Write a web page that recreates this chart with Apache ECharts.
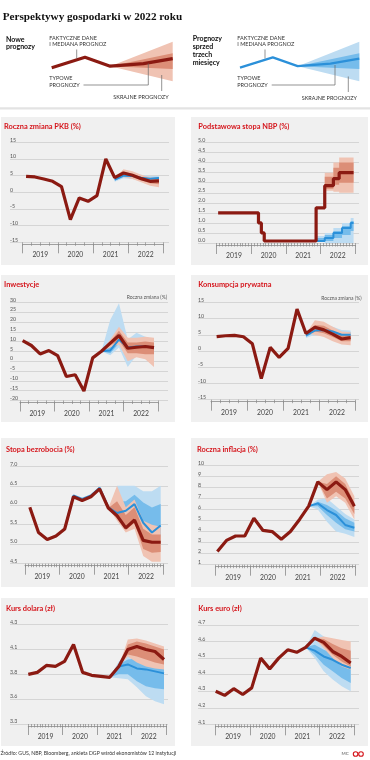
<!DOCTYPE html>
<html><head><meta charset="utf-8">
<script src="https://cdn.jsdelivr.net/npm/echarts/dist/echarts.min.js"></script>
<style>html,body{margin:0;padding:0;background:#fff}#c{width:370px;height:760px}</style>
</head><body><div id="c"></div>
<script>
const N = null;
// ---------- categories ----------
const years = ['2019', '2020', '2021', '2022'];
const quarterNames = ['I', 'II', 'III', 'IV'];
const monthNames = ['sty', 'lut', 'mar', 'kwi', 'maj', 'cze', 'lip', 'sie', 'wrz', 'paź', 'lis', 'gru'];
const quarterCats = years.flatMap(y => quarterNames.map(q => q + ' kw. ' + y));
const monthCats = years.flatMap(y => monthNames.map(m => m + ' ' + y));

// ---------- tick labels (bottom -> top) ----------
const pkbTicks = ['-15', '-10', '-5', '0', '5', '10', '15'];
const nbpTicks = ['0.0', '0.5', '1.0', '1.5', '2.0', '2.5', '3.0', '3.5', '4.0', '4.5', '5.0'];
const inwTicks = ['-20', '-15', '-10', '-5', '0', '5', '10', '15', '20', '25', '30'];
const konsTicks = ['-15', '-10', '-5', '0', '5', '10', '15'];
const bezrTicks = ['4.5', '5.0', '5.5', '6.0', '6.5', '7.0'];
const inflTicks = ['1', '2', '3', '4', '5', '6', '7', '8', '9', '10'];
const usdTicks = ['3.3', '3.6', '3.8', '4.1', '4.3'];
const eurTicks = ['4.1', '4.2', '4.3', '4.4', '4.5', '4.6', '4.7'];

// ---------- PKB (quarterly) ----------
const pkbActual = [4.8, 4.6, 4.0, 3.3, 1.7, -8.2, -1.7, -2.7, -1.0, 10.0, 4.4, 5.8, 5.1, 4.1, 3.3, 3.4];
const pkbOld = [N, N, N, N, N, N, N, N, N, N, 3.8, 5.0, 4.9, 4.4, 4.1, 4.3];
const pkbNewExtLo = [N, N, N, N, N, N, N, N, N, N, 4.4, 4.6, 4.0, 3.0, 2.0, 1.5];
const pkbNewTypLo = [N, N, N, N, N, N, N, N, N, N, 4.4, 5.3, 4.6, 3.6, 2.7, 2.4];
const pkbNewTypHi = [N, N, N, N, N, N, N, N, N, N, 4.4, 6.2, 5.6, 4.6, 3.8, 3.9];
const pkbNewExtHi = [N, N, N, N, N, N, N, N, N, N, 4.4, 6.9, 6.3, 5.3, 4.5, 4.4];
const pkbOldExtLo = [N, N, N, N, N, N, N, N, N, N, 3.2, 4.2, 4.0, 3.6, 3.4, 3.4];
const pkbOldTypLo = [N, N, N, N, N, N, N, N, N, N, 3.5, 4.6, 4.5, 4.0, 3.7, 3.8];
const pkbOldTypHi = [N, N, N, N, N, N, N, N, N, N, 4.3, 5.5, 5.3, 4.8, 4.4, 4.6];
const pkbOldExtHi = [N, N, N, N, N, N, N, N, N, N, 4.7, 6.0, 5.8, 5.3, 4.9, 4.9];

// ---------- Stopa NBP (monthly) ----------
const nbpActual = [
  1.5, 1.5, 1.5, 1.5, 1.5, 1.5, 1.5, 1.5, 1.5, 1.5, 1.5, 1.5,
  1.5, 1.5, 1.0, 0.5, 0.1, 0.1, 0.1, 0.1, 0.1, 0.1, 0.1, 0.1,
  0.1, 0.1, 0.1, 0.1, 0.1, 0.1, 0.1, 0.1, 0.1, 0.1, 1.75, 1.75,
  1.75, 2.85, 2.85, 2.85, 3.2, 3.2, 3.5, 3.5, 3.5, 3.5, 3.5, 3.5];
const nbpOld = [
  N, N, N, N, N, N, N, N, N, N, N, N,
  N, N, N, N, N, N, N, N, N, N, N, N,
  N, N, N, N, N, N, N, N, N, 0.1, 0.1, 0.1,
  0.1, 0.25, 0.25, 0.25, 0.5, 0.5, 0.5, 0.75, 0.75, 0.75, 1.0, 1.0];
const nbpNewExtLo = [
  N, N, N, N, N, N, N, N, N, N, N, N,
  N, N, N, N, N, N, N, N, N, N, N, N,
  N, N, N, N, N, N, N, N, N, N, N, N,
  N, 2.6, 2.6, 2.6, 2.55, 2.55, 2.5, 2.5, 2.5, 2.5, 2.5, 2.5];
const nbpNewTypLo = [
  N, N, N, N, N, N, N, N, N, N, N, N,
  N, N, N, N, N, N, N, N, N, N, N, N,
  N, N, N, N, N, N, N, N, N, N, N, N,
  N, 2.7, 2.7, 2.7, 2.9, 2.9, 3.0, 3.0, 3.0, 3.0, 3.0, 3.0];
const nbpNewTypHi = [
  N, N, N, N, N, N, N, N, N, N, N, N,
  N, N, N, N, N, N, N, N, N, N, N, N,
  N, N, N, N, N, N, N, N, N, N, N, N,
  N, 3.3, 3.3, 3.3, 3.75, 3.75, 4.0, 4.0, 4.0, 4.0, 4.0, 4.0];
const nbpNewExtHi = [
  N, N, N, N, N, N, N, N, N, N, N, N,
  N, N, N, N, N, N, N, N, N, N, N, N,
  N, N, N, N, N, N, N, N, N, N, N, N,
  N, 3.5, 3.5, 3.5, 4.0, 4.0, 4.25, 4.25, 4.25, 4.25, 4.25, 4.25];
const nbpOldExtLo = [
  N, N, N, N, N, N, N, N, N, N, N, N,
  N, N, N, N, N, N, N, N, N, N, N, N,
  N, N, N, N, N, N, N, N, N, N, 0.1, 0.1,
  0.1, 0.0, 0.0, 0.0, 0.0, 0.0, 0.0, 0.0, 0.0, 0.0, 0.0, 0.0];
const nbpOldTypLo = [
  N, N, N, N, N, N, N, N, N, N, N, N,
  N, N, N, N, N, N, N, N, N, N, N, N,
  N, N, N, N, N, N, N, N, N, N, 0.1, 0.1,
  0.1, 0.1, 0.1, 0.1, 0.25, 0.25, 0.25, 0.4, 0.4, 0.4, 0.6, 0.6];
const nbpOldTypHi = [
  N, N, N, N, N, N, N, N, N, N, N, N,
  N, N, N, N, N, N, N, N, N, N, N, N,
  N, N, N, N, N, N, N, N, N, N, 0.25, 0.25,
  0.25, 0.4, 0.4, 0.4, 0.6, 0.6, 0.6, 0.85, 0.85, 0.85, 1.1, 1.1];
const nbpOldExtHi = [
  N, N, N, N, N, N, N, N, N, N, N, N,
  N, N, N, N, N, N, N, N, N, N, N, N,
  N, N, N, N, N, N, N, N, N, N, 0.35, 0.35,
  0.35, 0.5, 0.5, 0.5, 0.75, 0.75, 0.75, 1.0, 1.0, 1.0, 1.25, 1.25];

// ---------- Inwestycje (quarterly) ----------
const inwActual = [10.5, 8.0, 3.7, 5.4, 2.9, -7.8, -6.9, -15.2, 1.7, 5.1, 9.2, 13.1, 6.6, 7.1, 7.5, 6.9];
const inwOld = [N, N, N, N, N, N, N, N, N, 5.1, 5.5, 11.0, 7.0, 7.5, 7.5, 7.0];
const inwNewExtLo = [N, N, N, N, N, N, N, N, N, 5.1, 7.0, 8.5, 0.0, 2.0, 1.0, -3.0];
const inwNewTypLo = [N, N, N, N, N, N, N, N, N, 5.1, 8.0, 10.5, 4.0, 4.0, 3.5, 3.5];
const inwNewTypHi = [N, N, N, N, N, N, N, N, N, 5.1, 10.0, 15.5, 9.5, 9.5, 10.0, 9.5];
const inwNewExtHi = [N, N, N, N, N, N, N, N, N, 5.1, 11.0, 17.5, 12.0, 12.0, 12.5, 12.0];
const inwOldExtLo = [N, N, N, N, N, N, N, N, N, 5.1, 3.0, 7.0, -3.0, 3.0, 1.5, 0.0];
const inwOldTypLo = [N, N, N, N, N, N, N, N, N, 5.1, 4.0, 9.0, 3.0, 5.0, 5.0, 4.0];
const inwOldTypHi = [N, N, N, N, N, N, N, N, N, 5.1, 8.0, 14.0, 10.0, 10.5, 10.0, 9.0];
const inwOldExtHi = [N, N, N, N, N, N, N, N, N, 5.1, 21.0, 29.5, 11.0, 14.5, 12.5, 11.0];

// ---------- Konsumpcja prywatna (quarterly) ----------
const konsActual = [4.4, 4.7, 4.8, 4.4, 2.2, -8.5, 1.1, -2.0, 0.8, 12.9, 5.4, 7.3, 6.5, 5.2, 3.7, 4.1];
const konsOld = [N, N, N, N, N, N, N, N, N, N, 4.8, 6.3, 6.5, 6.0, 5.0, 5.0];
const konsNewExtLo = [N, N, N, N, N, N, N, N, N, N, 5.4, 5.0, 4.3, 3.0, 2.0, 1.8];
const konsNewTypLo = [N, N, N, N, N, N, N, N, N, N, 5.4, 6.0, 5.5, 4.3, 3.0, 3.0];
const konsNewTypHi = [N, N, N, N, N, N, N, N, N, N, 5.4, 8.0, 7.8, 6.3, 4.8, 5.0];
const konsNewExtHi = [N, N, N, N, N, N, N, N, N, N, 5.4, 9.5, 9.0, 7.5, 6.0, 5.8];
const konsOldExtLo = [N, N, N, N, N, N, N, N, N, N, 4.0, 5.0, 5.0, 4.3, 3.8, 3.5];
const konsOldTypLo = [N, N, N, N, N, N, N, N, N, N, 4.3, 5.8, 5.8, 5.2, 4.5, 4.3];
const konsOldTypHi = [N, N, N, N, N, N, N, N, N, N, 5.3, 7.0, 7.3, 6.8, 5.8, 5.8];
const konsOldExtHi = [N, N, N, N, N, N, N, N, N, N, 6.0, 8.0, 8.3, 7.5, 6.5, 6.3];

// ---------- Stopa bezrobocia (quarterly points) ----------
const bezrActual = [5.95, 5.30, 5.12, 5.21, 5.39, 6.22, 6.12, 6.22, 6.42, 5.93, 5.73, 5.42, 5.62, 5.1, 5.05, 5.05];
const bezrOld = [N, N, N, N, 5.39, 6.25, 6.16, 6.25, 6.45, 5.95, 5.8, 5.86, 6.03, 5.55, 5.3, 5.48];
const bezrNewExtLo = [N, N, N, N, N, N, N, N, N, 5.93, 5.6, 5.3, 5.4, 4.7, 4.55, 4.55];
const bezrNewTypLo = [N, N, N, N, N, N, N, N, N, 5.93, 5.68, 5.36, 5.55, 4.88, 4.78, 4.8];
const bezrNewTypHi = [N, N, N, N, N, N, N, N, N, 5.93, 6.1, 5.75, 5.95, 5.4, 5.25, 5.25];
const bezrNewExtHi = [N, N, N, N, N, N, N, N, N, 5.93, 6.5, 5.95, 6.15, 5.6, 5.5, 5.45];
const bezrOldExtLo = [N, N, N, N, N, N, N, N, N, N, 5.6, 5.5, 5.6, 5.0, 4.9, 5.0];
const bezrOldTypLo = [N, N, N, N, N, N, N, N, N, N, 5.7, 5.65, 5.75, 5.25, 5.1, 5.2];
const bezrOldTypHi = [N, N, N, N, N, N, N, N, N, N, 6.1, 6.1, 6.27, 6.07, 5.94, 6.03];
const bezrOldExtHi = [N, N, N, N, N, N, N, N, N, N, 6.5, 6.5, 6.5, 6.36, 6.36, 6.5];

// ---------- Roczna inflacja ----------
const inflActual = [2.2, 3.2, 3.6, 3.6, 5.2, 4.1, 4.0, 3.3, 4.0, 5.1, 6.3, 8.5, 7.8, 8.5, 7.8, 6.3];
const inflOld = [N, N, N, N, N, N, N, N, N, N, 6.3, 6.55, 5.95, 5.5, 4.6, 4.35];
const inflNewExtLo = [N, N, N, N, N, N, N, N, N, N, N, 8.5, 6.6, 7.2, 6.6, 5.1];
const inflNewTypLo = [N, N, N, N, N, N, N, N, N, N, N, 8.5, 7.0, 7.6, 7.0, 5.6];
const inflNewTypHi = [N, N, N, N, N, N, N, N, N, N, N, 8.5, 8.3, 9.0, 8.3, 6.6];
const inflNewExtHi = [N, N, N, N, N, N, N, N, N, N, N, 8.5, 9.2, 9.4, 8.8, 7.2];
const inflOldExtLo = [N, N, N, N, N, N, N, N, N, N, 6.3, 6.0, 4.9, 4.0, 3.8, 3.5];
const inflOldTypLo = [N, N, N, N, N, N, N, N, N, N, 6.3, 6.3, 5.5, 4.8, 4.2, 4.0];
const inflOldTypHi = [N, N, N, N, N, N, N, N, N, N, 6.3, 6.7, 6.4, 5.9, 5.2, 4.8];
const inflOldExtHi = [N, N, N, N, N, N, N, N, N, N, 6.3, 6.9, 7.0, 6.3, 5.6, 5.1];

// ---------- Kurs dolara ----------
const usdActual = [3.80, 3.82, 3.89, 3.88, 3.93, 4.10, 3.82, 3.79, 3.78, 3.77, 3.88, 4.05, 4.08, 4.05, 4.03, 3.95];
const usdOld = [N, N, N, N, N, N, N, N, N, 3.77, 3.88, 3.90, 3.86, 3.85, 3.83, 3.81];
const usdNewExtLo = [N, N, N, N, N, N, N, N, N, N, 3.88, 3.98, 3.92, 3.88, 3.86, 3.85];
const usdNewTypLo = [N, N, N, N, N, N, N, N, N, N, 3.88, 4.00, 3.98, 3.95, 3.92, 3.90];
const usdNewTypHi = [N, N, N, N, N, N, N, N, N, N, 3.88, 4.10, 4.13, 4.11, 4.08, 4.05];
const usdNewExtHi = [N, N, N, N, N, N, N, N, N, N, 3.88, 4.15, 4.16, 4.14, 4.11, 4.08];
const usdOldExtLo = [N, N, N, N, N, N, N, N, N, 3.77, 3.76, 3.75, 3.67, 3.58, 3.53, 3.50];
const usdOldTypLo = [N, N, N, N, N, N, N, N, N, 3.77, 3.80, 3.80, 3.73, 3.68, 3.66, 3.65];
const usdOldTypHi = [N, N, N, N, N, N, N, N, N, 3.77, 3.90, 3.95, 3.96, 3.96, 3.96, 3.95];
const usdOldExtHi = [N, N, N, N, N, N, N, N, N, 3.77, 3.93, 4.00, 4.02, 4.03, 4.03, 4.02];

// ---------- Kurs euro ----------
const eurActual = [4.30, 4.275, 4.315, 4.28, 4.32, 4.50, 4.435, 4.50, 4.55, 4.535, 4.565, 4.62, 4.595, 4.54, 4.51, 4.47];
const eurOld = [N, N, N, N, N, N, N, N, N, N, 4.565, 4.545, 4.51, 4.49, 4.46, 4.44];
const eurNewExtLo = [N, N, N, N, N, N, N, N, N, N, N, 4.62, 4.56, 4.50, 4.45, 4.43];
const eurNewTypLo = [N, N, N, N, N, N, N, N, N, N, N, 4.62, 4.575, 4.52, 4.48, 4.45];
const eurNewTypHi = [N, N, N, N, N, N, N, N, N, N, N, 4.62, 4.615, 4.585, 4.56, 4.545];
const eurNewExtHi = [N, N, N, N, N, N, N, N, N, N, N, 4.62, 4.63, 4.62, 4.61, 4.60];
const eurOldExtLo = [N, N, N, N, N, N, N, N, N, N, 4.565, 4.50, 4.42, 4.37, 4.33, 4.30];
const eurOldTypLo = [N, N, N, N, N, N, N, N, N, N, 4.565, 4.52, 4.46, 4.42, 4.38, 4.35];
const eurOldTypHi = [N, N, N, N, N, N, N, N, N, N, 4.565, 4.58, 4.55, 4.53, 4.52, 4.50];
const eurOldExtHi = [N, N, N, N, N, N, N, N, N, N, 4.565, 4.67, 4.63, 4.60, 4.58, 4.55];

// ---------- legend illustration ----------
const legendX = [0, 33, 58, 91, 120];
const legendLine = [14, 24.4, 15.5, 18, 23];
const legendExtLo = [N, N, 15.5, N, 0.5];
const legendTypLo = [N, N, 15.5, N, 12.8];
const legendTypHi = [N, N, 15.5, N, 28.5];
const legendExtHi = [N, N, 15.5, N, 40];

// ---------- styles ----------
const RED = '#8b1a12', BLUE = '#2b90d9';
const RED_L = '#f0c3b3', RED_D = '#dc8e77';
const BLUE_L = '#bddcf2', BLUE_D = '#76bceb';
const PANEL_BG = '#f0f0f0';
const FONT = 'Lato, "Liberation Sans", sans-serif';

const panels = [
  { title: 'Roczna zmiana PKB (%)', ticks: pkbTicks, yMin: -15, yMax: 15, cats: quarterCats,
    actual: pkbActual, old: pkbOld, nb: [pkbNewExtLo, pkbNewTypLo, pkbNewTypHi, pkbNewExtHi], ob: [pkbOldExtLo, pkbOldTypLo, pkbOldTypHi, pkbOldExtHi],
    L: { bg: [1, 117, 174, 148], title: [4, 126.7], wide: [10, 169], data: [22.7, 163.3], y: [142.3, 242.3], xr: [-0.38, 15.49] } },
  { title: 'Podstawowa stopa NBP (%)', ticks: nbpTicks, yMin: 0, yMax: 5, cats: monthCats, step: 'end',
    actual: nbpActual, old: nbpOld, nb: [nbpNewExtLo, nbpNewTypLo, nbpNewTypHi, nbpNewExtHi], ob: [nbpOldExtLo, nbpOldTypLo, nbpOldTypHi, nbpOldExtHi],
    L: { bg: [191, 117, 177, 148], title: [198.3, 126.7], wide: [198, 359], data: [216.7, 355], y: [142.5, 243], xr: [-0.5, 47.5] } },
  { title: 'Inwestycje', note: 'Roczna zmiana (%)', ticks: inwTicks, yMin: -20, yMax: 30, cats: quarterCats,
    actual: inwActual, old: inwOld, nb: [inwNewExtLo, inwNewTypLo, inwNewTypHi, inwNewExtHi], ob: [inwOldExtLo, inwOldTypLo, inwOldTypHi, inwOldExtHi],
    L: { bg: [1, 275, 174, 147], title: [4, 285], note: [167, 297.8], wide: [10, 168], data: [20, 158.3], y: [302.3, 400.5], xr: [-0.3, 15.49] } },
  { title: 'Konsumpcja prywatna', note: 'Roczna zmiana (%)', ticks: konsTicks, yMin: -15, yMax: 15, cats: quarterCats,
    actual: konsActual, old: konsOld, nb: [konsNewExtLo, konsNewTypLo, konsNewTypHi, konsNewExtHi], ob: [konsOldExtLo, konsOldTypLo, konsOldTypHi, konsOldExtHi],
    L: { bg: [191, 275, 177, 147], title: [198.3, 285], note: [361.5, 298.3], wide: [198, 359], data: [211, 355], y: [302.3, 399.7], xr: [-0.63, 15.49] } },
  { title: 'Stopa bezrobocia (%)', ticks: bezrTicks, yMin: 4.5, yMax: 7.0, cats: monthCats,
    actual: bezrActual, old: bezrOld, nb: [bezrNewExtLo, bezrNewTypLo, bezrNewTypHi, bezrNewExtHi], ob: [bezrOldExtLo, bezrOldTypLo, bezrOldTypHi, bezrOldExtHi],
    L: { bg: [1, 438, 174, 149], title: [6, 449.3], wide: [10, 168], data: [25, 163.3], y: [466.3, 563.7], xr: [-0.55, 15.3] } },
  { title: 'Roczna inflacja (%)', ticks: inflTicks, yMin: 1, yMax: 10, cats: monthCats,
    actual: inflActual, old: inflOld, nb: [inflNewExtLo, inflNewTypLo, inflNewTypHi, inflNewExtHi], ob: [inflOldExtLo, inflOldTypLo, inflOldTypHi, inflOldExtHi],
    L: { bg: [191, 438, 177, 149], title: [197, 449.3], wide: [198, 359], data: [215.7, 355], y: [465.3, 564.7], xr: [-0.18, 15.07] } },
  { title: 'Kurs dolara (zł)', ticks: usdTicks, yMin: 3.3, yMax: 4.3, cats: monthCats,
    actual: usdActual, old: usdOld, nb: [usdNewExtLo, usdNewTypLo, usdNewTypHi, usdNewExtHi], ob: [usdOldExtLo, usdOldTypLo, usdOldTypHi, usdOldExtHi],
    L: { bg: [1, 598, 174, 148], title: [6, 608.3], wide: [10, 168], data: [28.3, 166], y: [624.7, 724], xr: [0, 15.22] } },
  { title: 'Kurs euro (zł)', ticks: eurTicks, yMin: 4.1, yMax: 4.7, cats: monthCats,
    actual: eurActual, old: eurOld, nb: [eurNewExtLo, eurNewTypLo, eurNewTypHi, eurNewExtHi], ob: [eurOldExtLo, eurOldTypLo, eurOldTypHi, eurOldExtHi],
    L: { bg: [191, 598, 177, 148], title: [198.3, 608.3], wide: [198, 359], data: [215.7, 354.3], y: [625, 724.3], xr: [0, 15.4] } }
];

const grids = [], xAxes = [], yAxes = [], series = [], graphics = [];
function addGrid(l, t, w, h) {
  grids.push({ left: l, top: t, width: w, height: h, containLabel: false, outerBoundsMode: 'none', show: false });
  return grids.length - 1;
}
function pairs(arr, xOf) {
  const out = [];
  arr.forEach((v, i) => { if (v !== null) out.push([xOf(i), v]); });
  return out;
}
// a filled band between lo and hi, drawn through the axes' coordinate transform
function addBand(lo, hi, color, xi, yi, step, xOf) {
  const idx = [];
  lo.forEach((v, i) => { if (v !== null && hi[i] !== null) idx.push(i); });
  series.push({
    type: 'custom', coordinateSystem: 'cartesian2d', xAxisIndex: xi, yAxisIndex: yi, silent: true, z: 2, clip: false,
    data: idx.map(i => [xOf(i), lo[i], hi[i]]),
    renderItem: function (params, api) {
      if (params.dataIndex !== 0) return null;
      const up = [], dn = [];
      idx.forEach((i, k) => {
        if (step && k > 0) {
          const pi = idx[k - 1];
          up.push(api.coord([xOf(i), hi[pi]]));
          dn.push(api.coord([xOf(i), lo[pi]]));
        }
        up.push(api.coord([xOf(i), hi[i]]));
        dn.push(api.coord([xOf(i), lo[i]]));
      });
      return { type: 'polygon', shape: { points: up.concat(dn.reverse()) }, style: { fill: color, stroke: null } };
    }
  });
}
function addBands(b, cL, cD, xi, yi, step, xOf) {
  addBand(b[0], b[3], cL, xi, yi, step, xOf);
  addBand(b[1], b[2], cD, xi, yi, step, xOf);
}
const tickColor = '#8a8a8a';

panels.forEach(p => {
  const L = p.L;
  const top = L.y[0], h = L.y[1] - L.y[0];
  graphics.push({ type: 'rect', z: -10, silent: true, shape: { x: L.bg[0], y: L.bg[1], width: L.bg[2], height: L.bg[3] }, style: { fill: PANEL_BG } });
  graphics.push({ type: 'text', z: 10, x: L.title[0], y: L.title[1], style: { text: p.title, fill: '#d5141b', font: 'bold 7.4px ' + FONT, verticalAlign: 'middle' } });
  if (p.note) graphics.push({ type: 'text', z: 10, x: L.note[0], y: L.note[1], style: { text: p.note, fill: '#555', font: '5px ' + FONT, align: 'right', verticalAlign: 'middle' } });

  // wide grid: gridlines + y labels
  const gW = addGrid(L.wide[0], top, L.wide[1] - L.wide[0], h);
  xAxes.push({ gridIndex: gW, type: 'value', show: false, min: 0, max: 1 });
  const ticks = p.ticks;
  yAxes.push({ gridIndex: gW, type: 'value', min: 0, max: ticks.length - 1, interval: 1,
    axisLine: { show: false }, axisTick: { show: false },
    splitLine: { show: true, lineStyle: { color: '#c9c9c9', width: 0.7 } },
    axisLabel: { show: true, inside: true, margin: 0, verticalAlign: 'bottom', fontSize: 5.3, color: '#555', fontFamily: FONT,
      showMinLabel: true, showMaxLabel: true, formatter: v => ticks[Math.round(v)] } });

  // data grid
  const gD = addGrid(L.data[0], top, L.data[1] - L.data[0], h);
  const xD = xAxes.length;
  xAxes.push({ gridIndex: gD, type: 'value', min: L.xr[0], max: L.xr[1], show: false, position: 'top' });
  xAxes.push({ gridIndex: gD, type: 'category', data: years, position: 'bottom', offset: 2, boundaryGap: true,
    axisLine: { show: true, lineStyle: { color: tickColor, width: 0.8 } },
    axisTick: { show: true, length: 9, interval: 0, lineStyle: { color: tickColor, width: 0.8 } },
    axisLabel: { show: true, interval: 0, fontSize: 6.8, color: '#444', margin: 7.5, fontFamily: FONT },
    splitLine: { show: false } });
  const yD = yAxes.length;
  yAxes.push({ gridIndex: gD, type: 'value', min: p.yMin, max: p.yMax, show: false, splitLine: { show: false } });

  // minor tick grid
  const gT = addGrid(L.data[0], top, L.data[1] - L.data[0], h);
  xAxes.push({ gridIndex: gT, type: 'category', data: p.cats, position: 'bottom', offset: 2, boundaryGap: true,
    axisLine: { show: false }, axisTick: { show: true, length: 3.5, interval: 0, lineStyle: { color: tickColor, width: 0.7 } },
    axisLabel: { show: false }, splitLine: { show: false } });
  yAxes.push({ gridIndex: gT, type: 'value', show: false, min: 0, max: 1 });

  const xOf = i => i;
  addBands(p.ob, BLUE_L, BLUE_D, xD, yD, p.step, xOf);
  addBands(p.nb, RED_L, RED_D, xD, yD, p.step, xOf);
  series.push({ type: 'line', xAxisIndex: xD, yAxisIndex: yD, data: pairs(p.old, xOf), symbol: 'none', showSymbol: false,
    step: p.step || false, lineStyle: { color: BLUE, width: 2 }, z: 3, silent: true, clip: false });
  series.push({ type: 'line', xAxisIndex: xD, yAxisIndex: yD, data: pairs(p.actual, xOf), symbol: 'none', showSymbol: false,
    step: p.step || false, lineStyle: { color: RED, width: 3.2 }, z: 4, silent: true, clip: false });
});

// legend illustrations
function legendPanel(left, width, lineColor, cL, cD, lw) {
  const g = addGrid(left, 41.7, width, 40);
  const xi = xAxes.length;
  xAxes.push({ gridIndex: g, type: 'value', min: 0, max: 120, show: false });
  const yi = yAxes.length;
  yAxes.push({ gridIndex: g, type: 'value', min: 0, max: 40, show: false });
  const xOf = i => legendX[i];
  addBands([legendExtLo, legendTypLo, legendTypHi, legendExtHi], cL, cD, xi, yi, false, xOf);
  series.push({ type: 'line', xAxisIndex: xi, yAxisIndex: yi, data: pairs(legendLine, xOf), symbol: 'none', showSymbol: false,
    lineStyle: { color: lineColor, width: lw }, z: 4, silent: true, clip: false });
}
legendPanel(51.7, 121, RED, RED_L, RED_D, 3.2);
legendPanel(240, 119.3, BLUE, BLUE_L, BLUE_D, 2.3);

// header texts
function txt(x, y, text, font, fill, align) {
  graphics.push({ type: 'text', z: 10, x: x, y: y, style: { text: text, font: font, fill: fill || '#222', align: align || 'left', verticalAlign: 'middle' } });
}
function seg(points) {
  graphics.push({ type: 'polyline', z: 10, silent: true, shape: { points: points }, style: { stroke: '#666', lineWidth: 0.7, fill: null } });
}
txt(2.7, 16.8, 'Perspektywy gospodarki w 2022 roku', 'bold 11.2px "Liberation Serif", serif', '#111');
const small = '5.5px ' + FONT;
const boldS = 'bold 7px ' + FONT;
txt(6, 39.3, 'Nowe', boldS, '#111');
txt(6, 46.7, 'prognozy', boldS, '#111');
txt(49.3, 38, 'FAKTYCZNE DANE', small, '#333');
txt(49.3, 44.7, 'I MEDIANA PROGNOZ', small, '#333');
txt(49.3, 78.3, 'TYPOWE', small, '#333');
txt(49.3, 85, 'PROGNOZY', small, '#333');
txt(113.3, 96.8, 'SKRAJNE PROGNOZY', small, '#333');
seg([[76.7, 49.5], [76.7, 58.5]]);
seg([[83.5, 85], [148.3, 85], [148.3, 63.5]]);
seg([[161.7, 75], [161.7, 91]]);

txt(192.7, 38.8, 'Prognozy', boldS, '#111');
txt(192.7, 46.8, 'sprzed', boldS, '#111');
txt(192.7, 54.8, 'trzech', boldS, '#111');
txt(192.7, 62.8, 'miesięcy', boldS, '#111');
txt(237.3, 38, 'FAKTYCZNE DANE', small, '#333');
txt(237.3, 44.7, 'I MEDIANA PROGNOZ', small, '#333');
txt(237.3, 78.3, 'TYPOWE', small, '#333');
txt(237.3, 85, 'PROGNOZY', small, '#333');
txt(301.7, 98.5, 'SKRAJNE PROGNOZY', small, '#333');
seg([[265, 49.5], [265, 58.5]]);
seg([[271.7, 85], [335, 85], [335, 65]]);
seg([[348.3, 76.5], [348.3, 92]]);

// separator
graphics.push({ type: 'rect', z: -10, silent: true, shape: { x: 0, y: 107.3, width: 370, height: 2.2 }, style: { fill: '#e3e3e3' } });

// footer
txt(0.5, 753.8, 'Źródło: GUS, NBP, Bloomberg, ankieta DGP wśród ekonomistów 12 instytucji', '5.2px ' + FONT, '#333');
txt(341.5, 754, 'MC', '4.5px ' + FONT, '#555');
graphics.push({ type: 'circle', z: 10, shape: { cx: 355.6, cy: 754, r: 2.3 }, style: { fill: 'none', stroke: '#d5141b', lineWidth: 1.1 } });
graphics.push({ type: 'circle', z: 10, shape: { cx: 361, cy: 754, r: 2.3 }, style: { fill: 'none', stroke: '#d5141b', lineWidth: 1.1 } });

const chart = echarts.init(document.getElementById('c'), null, { renderer: 'canvas', width: 370, height: 760 });
chart.setOption({
  animation: false,
  backgroundColor: '#ffffff',
  textStyle: { fontFamily: FONT },
  grid: grids, xAxis: xAxes, yAxis: yAxes, series: series, graphic: { elements: graphics }
});
</script></body></html>
